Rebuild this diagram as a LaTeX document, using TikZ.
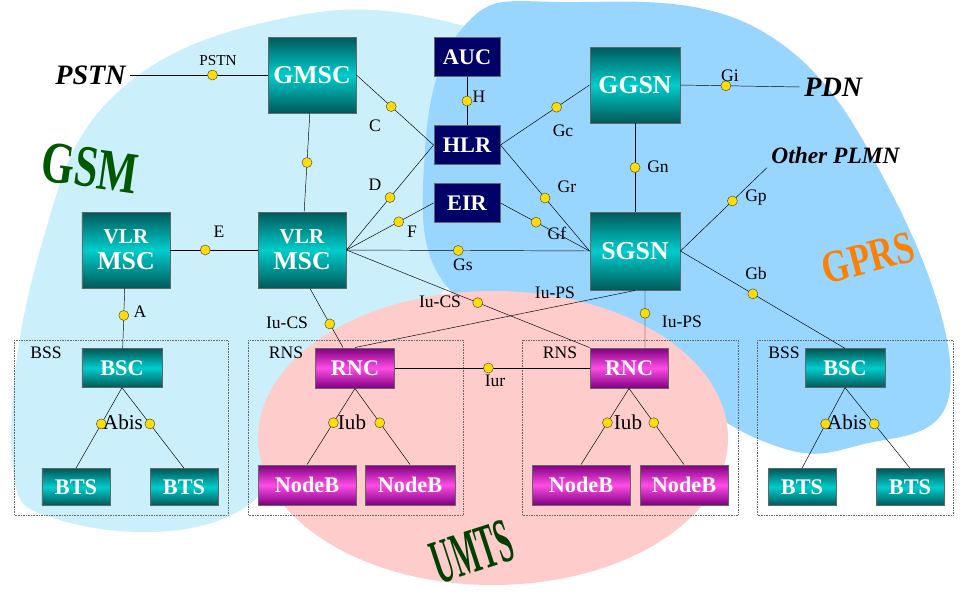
\documentclass[tikz,border=0pt]{standalone}
\usepackage{fontspec}
\setmainfont{Liberation Serif}
\usetikzlibrary{positioning}

\tikzset{
  teal/.style={draw=black!60, top color=teal!70!black, bottom color=teal!70!black, middle color=cyan!60!teal, text=white, font=\bfseries\fontsize{22}{22}\selectfont, align=center, inner sep=0pt},
  navy/.style={draw=black!60, fill=blue!40!black, text=white, font=\bfseries\fontsize{19}{19}\selectfont, inner sep=0pt, minimum width=1.98cm, minimum height=1.17cm},
  pinkbox/.style={draw=black!60, top color=magenta!50!black, bottom color=magenta!50!black, middle color=magenta!60!pink, text=white, font=\bfseries\fontsize{19}{19}\selectfont, inner sep=0pt, minimum height=1.2cm},
  small/.style={teal, font=\bfseries\fontsize{19}{19}\selectfont, minimum height=1.15cm},
  dot/.style={circle, draw=black!70, fill=yellow!80!orange, inner sep=0pt, minimum size=0.3cm},
  lbl/.style={font=\fontsize{15}{15}\selectfont, inner sep=1pt},
  net/.style={font=\bfseries\itshape\fontsize{24}{24}\selectfont},
  grp/.style={draw=black!60, densely dotted, thin},
  logo/.style={font=\bfseries\fontsize{36}{36}\selectfont}
}

\begin{document}
\begin{tikzpicture}[x=0.03cm, y=-0.03cm, thick]
  \useasboundingbox (0,0) rectangle (971,607);

  % areas
  \fill[cyan!20] plot[smooth cycle, tension=0.7] coordinates {(12,455) (40,250) (120,90) (300,15) (460,25) (510,70) (470,250) (320,420) (220,520) (60,520)};
  \fill[blue!40!cyan!40] plot[smooth cycle, tension=0.7] coordinates {(425,150) (465,25) (560,2) (760,30) (890,190) (950,390) (860,445) (760,440) (600,340) (450,290)};
  \fill[red!20] (493,438) ellipse (235 and 147);

  % groups
  \draw[grp] (14,340) rectangle (228,515);
  \draw[grp] (248,340) rectangle (463,515);
  \draw[grp] (522,340) rectangle (738,515);
  \draw[grp] (757,340) rectangle (953,515);
  \node[lbl] at (46,353) {BSS};
  \node[lbl] at (286,353) {RNS};
  \node[lbl] at (560,353) {RNS};
  \node[lbl] at (784,353) {BSS};

  % nodes
  \node[teal, minimum width=2.64cm, minimum height=2.28cm] (gmsc) at (312,75) {GMSC};
  \node[navy] (auc) at (467,57) {AUC};
  \node[navy] (hlr) at (467,145) {HLR};
  \node[navy] (eir) at (467,203) {EIR};
  \node[teal, minimum width=2.7cm, minimum height=2.28cm] (ggsn) at (635,85) {GGSN};
  \node[teal, minimum width=2.7cm, minimum height=2.34cm] (sgsn) at (635,251) {SGSN};
  \node[teal, minimum width=2.64cm, minimum height=2.28cm] (vlra) at (126,250) {{\fontsize{18}{18}\selectfont VLR}\\MSC};
  \node[teal, minimum width=2.64cm, minimum height=2.28cm] (vlrb) at (302,250) {{\fontsize{18}{18}\selectfont VLR}\\MSC};
  \node[small, minimum width=2.4cm] (bsca) at (122,368) {BSC};
  \node[small, minimum width=2.04cm, minimum height=1.1cm] (btsa) at (76,487) {BTS};
  \node[small, minimum width=2.04cm, minimum height=1.1cm] (btsb) at (184,487) {BTS};
  \node[small, minimum width=2.4cm] (bscb) at (845,368) {BSC};
  \node[small, minimum width=2.04cm, minimum height=1.1cm] (btsc) at (802,487) {BTS};
  \node[small, minimum width=2.04cm, minimum height=1.1cm] (btsd) at (910,487) {BTS};
  \node[pinkbox, minimum width=2.37cm] (rnca) at (355,368) {RNC};
  \node[pinkbox, minimum width=2.34cm] (rncb) at (629,368) {RNC};
  \node[pinkbox, minimum width=2.94cm] (nba) at (307,485) {NodeB};
  \node[pinkbox, minimum width=2.7cm] (nbb) at (410,485) {NodeB};
  \node[pinkbox, minimum width=2.94cm] (nbc) at (581,485) {NodeB};
  \node[pinkbox, minimum width=2.64cm] (nbd) at (684,485) {NodeB};

  \node[net, anchor=east] (pstn) at (130,75) {PSTN};
  \node[net, anchor=west] (pdn) at (800,87) {PDN};
  \node[net, font=\bfseries\itshape\fontsize{20}{20}\selectfont, anchor=west] (plmn) at (767,155) {Other PLMN};

  % logos
  \node[logo, text=green!35!black, rotate=-8, yscale=1.4] at (90,168) {GSM};
  \node[logo, text=orange, rotate=15, yscale=1.3, font=\bfseries\fontsize{30}{30}\selectfont] at (868,258) {GPRS};
  \node[logo, text=green!25!black, rotate=18, yscale=1.8, xscale=0.8, font=\bfseries\fontsize{30}{30}\selectfont] at (472,552) {UMTS};

  % connectors
  \begin{scope}[thin]
    \draw (pstn.east) -- node[dot, pos=0.6] {} (gmsc.west);
    \draw (gmsc.east) -- node[dot, pos=0.45] {} (hlr.west);
    \draw (gmsc) -- node[dot, pos=0.5] {} (vlrb);
    \draw (auc) -- node[dot, pos=0.5] {} (hlr);
    \draw (vlrb.east) -- node[dot, pos=0.5] {} (hlr.west);
    \draw (vlrb.east) -- node[dot, pos=0.6] {} (eir.west);
    \draw (vlrb.east) -- node[dot, pos=0.46] {} (sgsn.west);
    \draw (vlrb.east) -- node[dot, pos=0.54] {} (rncb.north west);
    \draw ([xshift=0.24cm]vlrb.south) -- node[dot, pos=0.6] {} ([xshift=-0.36cm]rnca.north);
    \draw (vlra) -- node[dot, pos=0.4] {} (vlrb);
    \draw (vlra) -- node[dot, pos=0.45] {} (bsca);
    \draw (ggsn.west) -- node[dot, pos=0.37] {} (hlr.east);
    \draw (hlr.east) -- node[dot, pos=0.5] {} (sgsn.west);
    \draw (eir.east) -- node[dot, pos=0.4] {} (sgsn.west);
    \draw (ggsn.east) -- node[dot, pos=0.38] {} (pdn.west);
    \draw (ggsn) -- node[dot, pos=0.5] {} (sgsn);
    \draw (sgsn.east) -- node[dot, pos=0.6] {} (plmn.south west);
    \draw (sgsn.east) -- node[dot, pos=0.44] {} (bscb.north);
    \draw (sgsn.south) -- (rnca.north);
    \draw ([xshift=0.3cm]sgsn.south) -- node[dot, pos=0.4] {} ([xshift=0.48cm]rncb.north);
    \draw (rnca) -- node[dot, pos=0.48] {} (rncb);
    \draw (rnca.south) -- node[dot, pos=0.45] {} (nba.north);
    \draw (rnca.south) -- node[dot, pos=0.45] {} (nbb.north);
    \draw (rncb.south) -- node[dot, pos=0.45] {} (nbc.north);
    \draw (rncb.south) -- node[dot, pos=0.45] {} (nbd.north);
    \draw (bsca.south) -- node[dot, pos=0.45] {} (btsa.north);
    \draw (bsca.south) -- node[dot, pos=0.45] {} (btsb.north);
    \draw (bscb.south) -- node[dot, pos=0.45] {} (btsc.north);
    \draw (bscb.south) -- node[dot, pos=0.45] {} (btsd.north);
  \end{scope}

  % interface labels
  \node[lbl, font=\fontsize{13}{13}\selectfont] at (218,61) {PSTN};
  \node[lbl] at (375,126) {C};
  \node[lbl] at (479,97) {H};
  \node[lbl] at (375,185) {D};
  \node[lbl] at (412,232) {F};
  \node[lbl] at (463,265) {Gs};
  \node[lbl] at (440,302) {Iu-CS};
  \node[lbl] at (287,323) {Iu-CS};
  \node[lbl] at (219,232) {E};
  \node[lbl] at (140,312) {A};
  \node[lbl] at (563,131) {Gc};
  \node[lbl] at (567,187) {Gr};
  \node[lbl] at (557,233) {Gf};
  \node[lbl] at (730,76) {Gi};
  \node[lbl] at (658,167) {Gn};
  \node[lbl] at (756,198) {Gp};
  \node[lbl] at (756,273) {Gb};
  \node[lbl] at (555,293) {Iu-PS};
  \node[lbl] at (682,322) {Iu-PS};
  \node[lbl] at (495,381) {Iur};
  \node[lbl, font=\fontsize{18}{18}\selectfont] at (352,422) {Iub};
  \node[lbl, font=\fontsize{18}{18}\selectfont] at (628,422) {Iub};
  \node[lbl, font=\fontsize{18}{18}\selectfont] at (123,422) {Abis};
  \node[lbl, font=\fontsize{18}{18}\selectfont] at (847,422) {Abis};
\end{tikzpicture}
\end{document}
